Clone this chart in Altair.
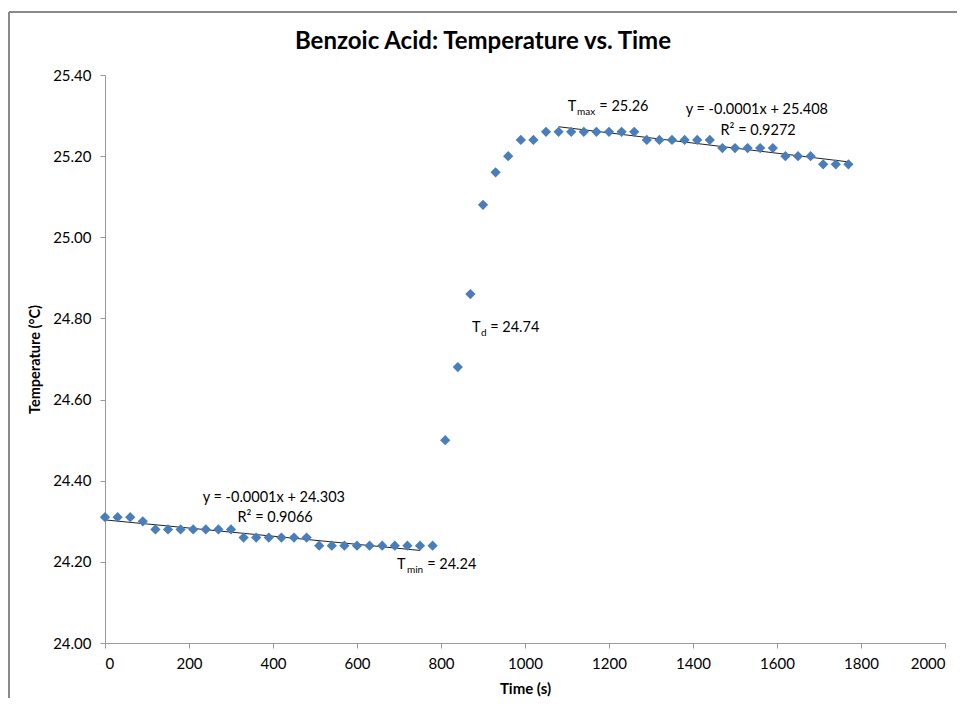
import altair as alt
import pandas as pd

# ---- data ----
times = [0, 30, 60, 90, 120, 150, 180, 210, 240, 270, 300, 330, 360, 390, 420, 450,
         480, 510, 540, 570, 600, 630, 660, 690, 720, 750, 780,
         810, 840, 870, 900, 930, 960, 990, 1020,
         1050, 1080, 1110, 1140, 1170, 1200, 1230, 1260,
         1290, 1320, 1350, 1380, 1410, 1440,
         1470, 1500, 1530, 1560, 1590,
         1620, 1650, 1680, 1710, 1740, 1770]
temps = [24.31, 24.31, 24.31, 24.30, 24.28, 24.28, 24.28, 24.28, 24.28, 24.28, 24.28,
         24.26, 24.26, 24.26, 24.26, 24.26, 24.26,
         24.24, 24.24, 24.24, 24.24, 24.24, 24.24, 24.24, 24.24, 24.24, 24.24,
         24.50, 24.68, 24.86, 25.08, 25.16, 25.20, 25.24, 25.24,
         25.26, 25.26, 25.26, 25.26, 25.26, 25.26, 25.26, 25.26,
         25.24, 25.24, 25.24, 25.24, 25.24, 25.24,
         25.22, 25.22, 25.22, 25.22, 25.22,
         25.20, 25.20, 25.20, 25.18, 25.18, 25.18]

pre_fit_range = [0, 750]
post_fit_range = [1080, 1770]

title_text = "Benzoic Acid: Temperature vs. Time"

# annotations (text, time, temperature, size, alignment)
ann_text = ["y = -0.0001x + 24.303", "R² = 0.9066",
            "T", "min", "= 24.24",
            "T", "d", "= 24.74",
            "T", "max", "= 25.26",
            "y = -0.0001x + 25.408", "R² = 0.9272"]
ann_time = [402, 405,
            695, 719, 767,
            874, 895, 917,
            1102, 1124, 1177,
            1552, 1555]
ann_temp = [24.358, 24.309,
            24.192, 24.180, 24.192,
            24.776, 24.764, 24.776,
            25.321, 25.309, 25.321,
            25.314, 25.262]
ann_size = [14.5, 14.5, 14.5, 10, 14.5, 14.5, 10, 14.5, 14.5, 10, 14.5, 14.5, 14.5]
ann_align = ["center", "center", "left", "left", "left", "left", "left", "left",
             "left", "left", "left", "center", "center"]

df = pd.DataFrame({"time": times, "temp": temps})
ann = pd.DataFrame({"text": ann_text, "time": ann_time, "temp": ann_temp,
                    "size": ann_size, "align": ann_align})

FONT = "Lato"
BLUE = "#4a7ebb"

xscale = alt.Scale(domain=[0, 2000], nice=False, zero=False)
yscale = alt.Scale(domain=[24.0, 25.4], nice=False, zero=False)

xaxis = alt.Axis(values=list(range(0, 2001, 200)), format="d", grid=False, tickSize=5,
                 domainColor="#9a9a9a", tickColor="#9a9a9a", labelFontSize=15,
                 labelColor="#000000", labelPadding=8, labelFont=FONT,
                 title="Time (s)", titleFont=FONT, titleFontSize=15,
                 titleFontWeight="bold", titlePadding=10, titleColor="#000000")
yaxis = alt.Axis(values=[24.0, 24.2, 24.4, 24.6, 24.8, 25.0, 25.2, 25.4], format=".2f",
                 grid=False, tickSize=5, domainColor="#9a9a9a", tickColor="#9a9a9a",
                 labelFontSize=15, labelColor="#000000", labelPadding=9, labelFont=FONT,
                 title="Temperature (°C)", titleFont=FONT, titleFontSize=14.5,
                 titleFontWeight="bold", titlePadding=10, titleColor="#000000")

base = alt.Chart(df)

points = base.mark_point(shape="diamond", filled=True, size=105, color=BLUE,
                         opacity=1).encode(
    x=alt.X("time:Q", scale=xscale, axis=xaxis),
    y=alt.Y("temp:Q", scale=yscale, axis=yaxis),
)

pre_fit = base.transform_filter(
    (alt.datum.time >= pre_fit_range[0]) & (alt.datum.time <= pre_fit_range[1])
).transform_regression("time", "temp", extent=pre_fit_range).mark_line(
    color="#222222", strokeWidth=1).encode(
    x=alt.X("time:Q", scale=xscale), y=alt.Y("temp:Q", scale=yscale))

post_fit = base.transform_filter(
    (alt.datum.time >= post_fit_range[0]) & (alt.datum.time <= post_fit_range[1])
).transform_regression("time", "temp", extent=post_fit_range).mark_line(
    color="#222222", strokeWidth=1).encode(
    x=alt.X("time:Q", scale=xscale), y=alt.Y("temp:Q", scale=yscale))

def ann_layer(align):
    return alt.Chart(ann).transform_filter(alt.datum.align == align).mark_text(
        font=FONT, color="#000000", align=align, baseline="middle").encode(
        x=alt.X("time:Q", scale=xscale),
        y=alt.Y("temp:Q", scale=yscale),
        text="text:N",
        size=alt.Size("size:Q", scale=None, legend=None),
    )

# chart title, drawn as text centred on the chart area
title = alt.Chart(pd.DataFrame({"t": [title_text]})).mark_text(
    font=FONT, fontSize=24, fontWeight="bold", color="#000000",
    align="center", baseline="middle").encode(
    x=alt.value(378), y=alt.value(-33), text="t:N")

# chart-area frame (top and left edges, as in the reference)
frame_top = alt.Chart(df).mark_rule(color="#8a8a8a", strokeWidth=1.5).encode(
    x=alt.value(-96), x2=alt.value(870), y=alt.value(-63))
frame_left = alt.Chart(df).mark_rule(color="#8a8a8a", strokeWidth=1.5).encode(
    x=alt.value(-96), y=alt.value(-63), y2=alt.value(700))

chart = alt.layer(frame_top, frame_left, title, pre_fit, post_fit, points,
                  ann_layer("center"), ann_layer("left")).properties(
    width=840, height=568,
    padding={"left": 97, "top": 67, "right": 12, "bottom": 55},
    autosize=alt.AutoSizeParams(type="none"),
).configure_view(stroke=None)

chart.save("out.html", embed_options={"renderer": "svg", "actions": False})
